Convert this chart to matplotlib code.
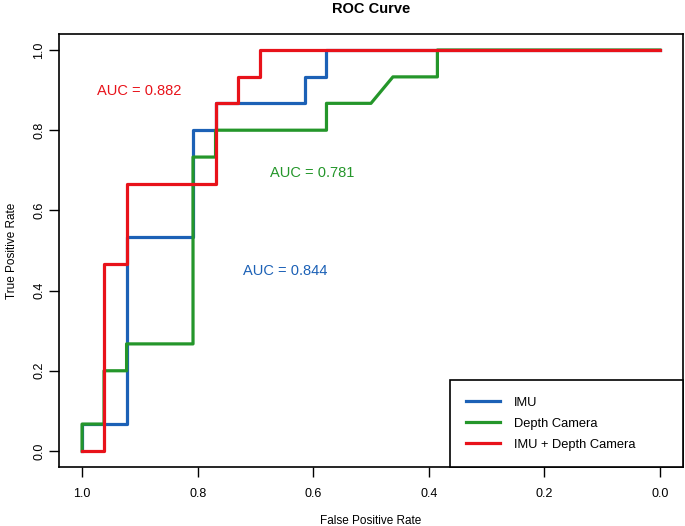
import matplotlib.pyplot as plt

plt.rcParams['font.family'] = ['Liberation Sans', 'DejaVu Sans']

# specificity (x, reversed) / sensitivity (y) pairs
imu_spec = [1.0, 1.0, 0.923, 0.923, 0.808, 0.808, 0.769, 0.769, 0.615, 0.615, 0.577, 0.577, 0.0]
imu_sens = [0.0, 0.067, 0.067, 0.533, 0.533, 0.8, 0.8, 0.867, 0.867, 0.933, 0.933, 1.0, 1.0]

depth_spec = [1.0, 1.0, 0.962, 0.962, 0.923, 0.923, 0.808, 0.808, 0.769, 0.769,
              0.577, 0.577, 0.5, 0.462, 0.385, 0.385, 0.0]
depth_sens = [0.0, 0.067, 0.067, 0.2, 0.2, 0.267, 0.267, 0.733, 0.733, 0.8,
              0.8, 0.867, 0.867, 0.933, 0.933, 1.0, 1.0]

both_spec = [1.0, 0.962, 0.962, 0.923, 0.923, 0.769, 0.769, 0.731, 0.731, 0.692, 0.692, 0.0]
both_sens = [0.0, 0.0, 0.467, 0.467, 0.667, 0.667, 0.867, 0.867, 0.933, 0.933, 1.0, 1.0]

auc_imu = 0.844
auc_depth = 0.781
auc_both = 0.882

c_imu = '#1c61b6'
c_depth = '#24962a'
c_both = '#e8121a'

fig = plt.figure(figsize=(6.85, 5.26), dpi=100)
ax = fig.add_axes([0.0861, 0.1122, 0.9109, 0.8232])

ax.plot(imu_spec, imu_sens, color=c_imu, lw=2.3, label='IMU')
ax.plot(depth_spec, depth_sens, color=c_depth, lw=2.3, label='Depth Camera')
ax.plot(both_spec, both_sens, color=c_both, lw=2.3, label='IMU + Depth Camera')

# AUC labels
ax.text(0.902, 0.898, f'AUC = {auc_both}', color=c_both, fontsize=10.5, ha='center', va='center')
ax.text(0.601, 0.694, f'AUC = {auc_depth}', color=c_depth, fontsize=10.5, ha='center', va='center')
ax.text(0.649, 0.450, f'AUC = {auc_imu}', color=c_imu, fontsize=10.5, ha='center', va='center')

ax.set_xlim(1.04, -0.04)
ax.set_ylim(-0.04, 1.04)
ax.set_xticks([1.0, 0.8, 0.6, 0.4, 0.2, 0.0])
ax.set_yticks([0.0, 0.2, 0.4, 0.6, 0.8, 1.0])
ax.set_xticklabels(['1.0', '0.8', '0.6', '0.4', '0.2', '0.0'])
ax.set_yticklabels(['0.0', '0.2', '0.4', '0.6', '0.8', '1.0'], rotation=90, va='center')
ax.tick_params(direction='out', length=7, width=1, labelsize=9)
ax.tick_params(axis='x', pad=8)
ax.tick_params(axis='y', pad=3)
for s in ax.spines.values():
    s.set_linewidth(1.2)

ax.set_xlabel('False Positive Rate', fontsize=8.5, labelpad=11)
ax.set_ylabel('True Positive Rate', fontsize=8.5, labelpad=11)
ax.set_title('ROC Curve', fontweight='bold', fontsize=10.5, pad=15)

# legend box in the lower right corner, as wide as in the original
leg = ax.legend(loc='lower left', bbox_to_anchor=(0.6266, 0.0, 0.3734, 0.2), mode='expand',
                borderaxespad=0, fancybox=False, framealpha=1, edgecolor='black',
                fontsize=9.3, handlelength=2.6, handletextpad=1.1, borderpad=1.25,
                labelspacing=0.7)
leg.get_frame().set_linewidth(1.2)

fig.savefig('out.png', dpi=100)
